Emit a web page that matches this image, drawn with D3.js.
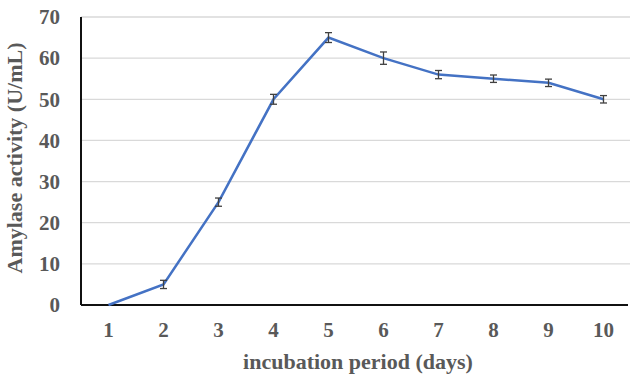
<!DOCTYPE html>
<html>
<head>
<meta charset="utf-8">
<script src="https://cdn.jsdelivr.net/npm/d3@7"></script>
<style>
  body { margin: 0; background: #fff; }
  text { font-family: "Liberation Serif", "Times New Roman", serif; font-weight: bold; fill: #595959; }
</style>
</head>
<body>
<div id="myChart"></div>
<script>
let days = ['1', '2', '3', '4', '5', '6', '7', '8', '9', '10'];
let activity = [0, 5, 25, 50, 65, 60, 56, 55, 54, 50];
let errors = [0, 1, 1, 1.2, 1.2, 1.5, 1, 0.9, 0.9, 0.9];
let yTicks = [0, 10, 20, 30, 40, 50, 60, 70];

let margin = { top: 17, right: 0, bottom: 72, left: 81 };
let width = 630 - margin.left - margin.right;
let height = 377 - margin.top - margin.bottom;

let svg = d3
    .select('#myChart')
    .append('svg')
    .attr('width', 630)
    .attr('height', 377)
    .append('g')
    .attr('transform', 'translate(' + margin.left + ',' + margin.top + ')');

let x = d3.scaleBand().domain(days).range([0, 550]);
let y = d3.scaleLinear().domain([0, 70]).range([height, 0]);

// gridlines
svg.selectAll('.grid')
    .data(yTicks.slice(1))
    .enter()
    .append('line')
    .attr('x1', 0)
    .attr('x2', width)
    .attr('y1', (d) => y(d))
    .attr('y2', (d) => y(d))
    .attr('stroke', '#d9d9d9')
    .attr('stroke-width', 1.3);

// y labels
svg.selectAll('.ylab')
    .data(yTicks)
    .enter()
    .append('text')
    .attr('x', -21)
    .attr('y', (d) => y(d))
    .attr('dy', '0.35em')
    .style('text-anchor', 'end')
    .style('font-size', '21px')
    .text((d) => d);

// x labels
svg.selectAll('.xlab')
    .data(days)
    .enter()
    .append('text')
    .attr('x', (d) => x(d) + x.bandwidth() / 2)
    .attr('y', height + 32)
    .style('text-anchor', 'middle')
    .style('font-size', '21px')
    .text((d) => d);

// axes lines
svg.append('line')
    .attr('x1', 0).attr('x2', 0)
    .attr('y1', 0).attr('y2', height)
    .attr('stroke', '#111').attr('stroke-width', 2);
svg.append('line')
    .attr('x1', 0).attr('x2', 547)
    .attr('y1', height).attr('y2', height)
    .attr('stroke', '#111').attr('stroke-width', 2);

let pts = days.map((d, i) => ({ day: d, value: activity[i], err: errors[i] }));

let line = d3.line()
    .x((d) => x(d.day) + x.bandwidth() / 2)
    .y((d) => y(d.value));

svg.append('path')
    .datum(pts)
    .attr('d', line)
    .attr('fill', 'none')
    .attr('stroke', '#4472c4')
    .attr('stroke-width', 2.5);

// error bars
let eb = svg.selectAll('.err')
    .data(pts.filter((d) => d.err > 0))
    .enter()
    .append('g')
    .attr('stroke', '#404040')
    .attr('stroke-width', 1.3);
eb.append('line')
    .attr('x1', (d) => x(d.day) + x.bandwidth() / 2)
    .attr('x2', (d) => x(d.day) + x.bandwidth() / 2)
    .attr('y1', (d) => y(d.value + d.err))
    .attr('y2', (d) => y(d.value - d.err));
eb.append('line')
    .attr('x1', (d) => x(d.day) + x.bandwidth() / 2 - 3.5)
    .attr('x2', (d) => x(d.day) + x.bandwidth() / 2 + 3.5)
    .attr('y1', (d) => y(d.value + d.err))
    .attr('y2', (d) => y(d.value + d.err));
eb.append('line')
    .attr('x1', (d) => x(d.day) + x.bandwidth() / 2 - 3.5)
    .attr('x2', (d) => x(d.day) + x.bandwidth() / 2 + 3.5)
    .attr('y1', (d) => y(d.value - d.err))
    .attr('y2', (d) => y(d.value - d.err));

// axis titles
svg.append('text')
    .attr('x', 277)
    .attr('y', height + 64)
    .style('text-anchor', 'middle')
    .style('font-size', '22px')
    .text('incubation period (days)');

svg.append('text')
    .attr('transform', 'rotate(-90)')
    .attr('x', -height / 2 + 3)
    .attr('y', -59)
    .style('text-anchor', 'middle')
    .style('font-size', '22px')
    .text('Amylase activity (U/mL)');
</script>
</body>
</html>
